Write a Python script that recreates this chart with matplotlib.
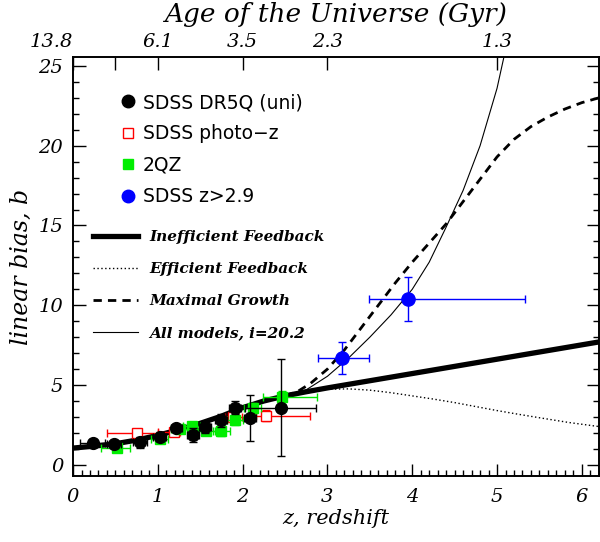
import numpy as np
import matplotlib.pyplot as plt
from matplotlib.lines import Line2D
from matplotlib.ticker import MultipleLocator

# Dados
# SDSS DR5Q (uni)
z_dr5 = [0.23, 0.48, 0.79, 1.02, 1.22, 1.41, 1.56, 1.74, 1.91, 2.09, 2.45]
b_dr5 = [1.36, 1.30, 1.40, 1.77, 2.30, 1.86, 2.34, 2.78, 3.59, 2.92, 3.59]
berr_dr5 = [0.25, 0.20, 0.35, 0.30, 0.20, 0.45, 0.35, 0.40, 0.40, 1.43, 3.05]
zerr_dr5 = [0.15, 0.08, 0.08, 0.08, 0.07, 0.07, 0.07, 0.07, 0.07, 0.07, 0.42]

# SDSS photo-z
z_phot = [0.75, 1.19, 1.89, 2.27]
b_phot = [2.02, 2.05, 2.97, 3.07]
berr_phot = [0.20, 0.20, 0.25, 0.35]
zlo_phot = [0.35, 0.19, 0.10, 0.11]
zhi_phot = [0.25, 0.07, 0.10, 0.52]

# 2QZ
z_2qz = [0.52, 1.02, 1.26, 1.40, 1.57, 1.75, 1.91, 2.12, 2.47]
b_2qz = [1.05, 1.61, 2.23, 2.41, 2.09, 2.09, 2.82, 3.55, 4.24]
berr_2qz = [0.15, 0.20, 0.20, 0.25, 0.25, 0.30, 0.30, 0.30, 0.40]
zlo_2qz = [0.19, 0.10, 0.10, 0.10, 0.10, 0.10, 0.10, 0.10, 0.23]
zhi_2qz = [0.15, 0.10, 0.10, 0.10, 0.10, 0.10, 0.10, 0.10, 0.41]

# SDSS z>2.9
z_hi = [3.17, 3.95]
b_hi = [6.72, 10.40]
berr_hi = [1.00, 1.40]
zlo_hi = [0.28, 0.46]
zhi_hi = [0.32, 1.38]

# Modelos (trecho comum em baixo redshift e depois cada ramo)
z_base = [0.0, 0.25, 0.5, 0.75, 1.0, 1.25, 1.5, 1.75, 2.0, 2.25, 2.5]
b_base = [1.05, 1.17, 1.32, 1.55, 1.85, 2.20, 2.60, 3.05, 3.58, 4.00, 4.32]

z_ineff = [2.75, 3.0, 3.5, 4.0, 4.5, 5.0, 5.5, 6.2]
b_ineff = [4.58, 4.82, 5.27, 5.72, 6.17, 6.62, 7.07, 7.70]

z_eff = [2.75, 3.0, 3.25, 3.5, 3.75, 4.0, 4.25, 4.5, 4.75, 5.0, 5.25, 5.5, 5.85, 6.2]
b_eff = [4.60, 4.74, 4.76, 4.68, 4.52, 4.32, 4.12, 3.90, 3.65, 3.40, 3.17, 2.95, 2.65, 2.40]

z_max = [2.65, 2.8, 3.0, 3.2, 3.4, 3.6, 3.8, 4.0, 4.2, 4.4, 4.6, 4.8, 5.0, 5.2, 5.4, 5.6, 5.8, 6.0, 6.2]
b_max = [4.60, 5.10, 6.00, 7.20, 8.60, 10.00, 11.40, 12.70, 13.90, 15.10, 16.50, 17.90, 19.30,
         20.40, 21.20, 21.80, 22.30, 22.70, 23.00]

z_all = [2.75, 3.0, 3.25, 3.5, 3.75, 4.0, 4.2, 4.4, 4.6, 4.8, 5.0, 5.12]
b_all = [4.70, 5.55, 6.70, 8.00, 9.40, 11.00, 12.70, 14.90, 17.20, 20.00, 23.60, 26.50]

# Idades no eixo superior
z_idade = [0, 0.49, 1, 2, 3, 5]
rot_idade = ['13.8', '', '6.1', '3.5', '2.3', '1.3']

serif = 'DejaVu Serif'
pontilhado = (0, (1, 1.8))
tracejado = (0, (3, 2.2))

fig = plt.figure(figsize=(6, 5.42), dpi=100)
ax = fig.add_axes([0.1217, 0.1218, 0.8763, 0.773])

# curvas dos modelos
ax.plot(z_base + z_ineff, b_base + b_ineff, color='black', lw=3.8, solid_capstyle='butt', zorder=2)
ax.plot(z_base[-1:] + z_eff, b_base[-1:] + b_eff, color='black', lw=1.0, linestyle=pontilhado, zorder=2)
ax.plot(z_base[-1:] + z_max, b_base[-1:] + b_max, color='black', lw=2.0, linestyle=tracejado, zorder=2)
ax.plot(z_base + z_all, b_base + b_all, color='black', lw=0.8, zorder=2)

# pontos com barras de erro
ax.errorbar(z_phot, b_phot, yerr=berr_phot, xerr=[zlo_phot, zhi_phot], fmt='s', mfc='white',
            mec='red', ms=6.5, mew=1.0, ecolor='red', elinewidth=1.0, capsize=3, zorder=3)
ax.errorbar(z_2qz, b_2qz, yerr=berr_2qz, xerr=[zlo_2qz, zhi_2qz], fmt='s', color='#00ee00',
            ms=6.5, ecolor='#00e600', elinewidth=1.0, capsize=3, zorder=4)
ax.errorbar(z_dr5, b_dr5, yerr=berr_dr5, xerr=zerr_dr5, fmt='o', color='black',
            ms=8.5, ecolor='black', elinewidth=1.0, capsize=3, zorder=5)
ax.errorbar(z_hi, b_hi, yerr=berr_hi, xerr=[zlo_hi, zhi_hi], fmt='o', color='blue',
            ms=9.5, ecolor='blue', elinewidth=1.0, capsize=3, zorder=5)

ax.set_xlim(0, 6.2)
ax.set_ylim(-0.7, 25.56)
ax.xaxis.set_major_locator(MultipleLocator(1))
ax.xaxis.set_minor_locator(MultipleLocator(0.1))
ax.yaxis.set_major_locator(MultipleLocator(5))
ax.yaxis.set_minor_locator(MultipleLocator(1))
ax.tick_params(which='both', direction='in', right=True, top=False, width=1.0)
ax.tick_params(which='major', length=9, labelsize=14, pad=9)
ax.tick_params(axis='y', which='major', pad=7)
ax.tick_params(which='minor', length=4.5)
for lab in ax.get_xticklabels() + ax.get_yticklabels():
    lab.set_fontfamily(serif)
    lab.set_fontstyle('italic')
for sp in ax.spines.values():
    sp.set_linewidth(1.2)

ax.set_xlabel('z, redshift', fontsize=15, family=serif, style='italic', labelpad=2)
ax.set_ylabel('linear bias, b', fontsize=17, family=serif, style='italic', labelpad=4)

# eixo superior com a idade do Universo
ax2 = ax.twiny()
ax2.set_xlim(ax.get_xlim())
ax2.set_xticks(z_idade)
ax2.set_xticklabels(rot_idade, fontsize=14, family=serif, style='italic')
ax2.get_xticklabels()[0].set_horizontalalignment('right')
ax2.tick_params(direction='in', length=9, width=1.0, pad=4)
ax2.set_xlabel('Age of the Universe (Gyr)', fontsize=19, family=serif, style='italic', labelpad=8)
for sp in ax2.spines.values():
    sp.set_linewidth(1.2)

# legenda dos dados
h_dados = [
    Line2D([], [], marker='o', ls='none', color='black', ms=9),
    Line2D([], [], marker='s', ls='none', mfc='white', mec='red', ms=7),
    Line2D([], [], marker='s', ls='none', color='#00ee00', ms=7),
    Line2D([], [], marker='o', ls='none', color='blue', ms=9),
]
rot_dados = ['SDSS DR5Q (uni)', 'SDSS photo\u2212z', '2QZ', 'SDSS z>2.9']
leg1 = ax.legend(h_dados, rot_dados, loc='upper left', bbox_to_anchor=(0.079, 0.932),
                 frameon=False, fontsize=13.5, handlelength=0.6, handletextpad=0.5,
                 labelspacing=0.66, borderaxespad=0)
ax.add_artist(leg1)

# legenda dos modelos
h_mod = [
    Line2D([], [], color='black', lw=3.8),
    Line2D([], [], color='black', lw=1.0, linestyle=pontilhado),
    Line2D([], [], color='black', lw=2.0, linestyle=tracejado),
    Line2D([], [], color='black', lw=0.8),
]
rot_mod = ['Inefficient Feedback', 'Efficient Feedback', 'Maximal Growth', 'All models, i=20.2']
leg2 = ax.legend(h_mod, rot_mod, loc='upper left', bbox_to_anchor=(0.027, 0.601),
                 frameon=False, handlelength=2.9, handletextpad=0.75, labelspacing=1.17,
                 borderaxespad=0, prop={'family': serif, 'style': 'italic', 'weight': 'bold', 'size': 11})

fig.savefig('out.png', dpi=100)
